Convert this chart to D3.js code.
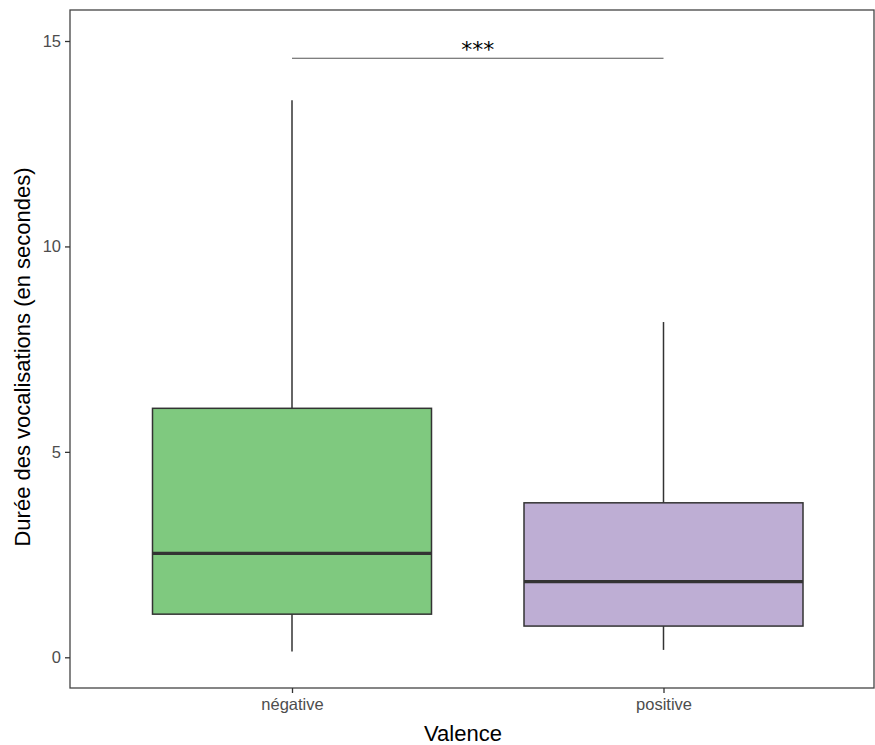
<!DOCTYPE html>
<html>
<head>
<meta charset="utf-8">
<script src="https://cdnjs.cloudflare.com/ajax/libs/d3/7.8.5/d3.min.js"></script>
<style>
  body { margin: 0; background: #fff; }
  svg text { font-family: "Liberation Sans", Arial, sans-serif; }
</style>
</head>
<body>
<div id="chart"></div>
<script>
// box statistics
var categories = ["négative", "positive"];
var whiskerLow = [0.14, 0.18];
var q1 = [1.05, 0.76];
var medians = [2.53, 1.84];
var q3 = [6.06, 3.76];
var whiskerHigh = [13.56, 8.16];
var fills = ["#7fc97f", "#beaed4"];
var yTicks = [0, 5, 10, 15];
var signif = {label: "***", y: 14.58};

var width = 875, height = 745;
var panel = {left: 70, top: 10, right: 874, bottom: 688};

var svg = d3.select("#chart").append("svg")
    .attr("width", width)
    .attr("height", height);

var y = d3.scaleLinear().domain([0, 15]).range([657.3, 41]);
var x = d3.scalePoint().domain(categories).range([292, 663.5]);
var boxW = 279;

var data = categories.map(function(c, i) {
  return {cat: c, lo: whiskerLow[i], q1: q1[i], med: medians[i], q3: q3[i], hi: whiskerHigh[i], fill: fills[i]};
});

var g = svg.append("g");

// whiskers
g.selectAll(".wlow").data(data).enter().append("line")
    .attr("x1", function(d) { return x(d.cat); })
    .attr("x2", function(d) { return x(d.cat); })
    .attr("y1", function(d) { return y(d.lo); })
    .attr("y2", function(d) { return y(d.q1); })
    .attr("stroke", "#333").attr("stroke-width", 1.5);
g.selectAll(".whigh").data(data).enter().append("line")
    .attr("x1", function(d) { return x(d.cat); })
    .attr("x2", function(d) { return x(d.cat); })
    .attr("y1", function(d) { return y(d.q3); })
    .attr("y2", function(d) { return y(d.hi); })
    .attr("stroke", "#333").attr("stroke-width", 1.5);

// boxes
g.selectAll(".box").data(data).enter().append("rect")
    .attr("x", function(d) { return x(d.cat) - boxW / 2; })
    .attr("y", function(d) { return y(d.q3); })
    .attr("width", boxW)
    .attr("height", function(d) { return y(d.q1) - y(d.q3); })
    .attr("fill", function(d) { return d.fill; })
    .attr("stroke", "#333").attr("stroke-width", 1.5);

// medians
g.selectAll(".med").data(data).enter().append("line")
    .attr("x1", function(d) { return x(d.cat) - boxW / 2; })
    .attr("x2", function(d) { return x(d.cat) + boxW / 2; })
    .attr("y1", function(d) { return y(d.med); })
    .attr("y2", function(d) { return y(d.med); })
    .attr("stroke", "#333").attr("stroke-width", 3.2);

// significance bar
g.append("line")
    .attr("x1", x(categories[0])).attr("x2", x(categories[1]))
    .attr("y1", y(signif.y)).attr("y2", y(signif.y))
    .attr("stroke", "#555").attr("stroke-width", 1.1);
g.append("text")
    .attr("x", (x(categories[0]) + x(categories[1])) / 2)
    .attr("y", y(signif.y) - 1)
    .attr("text-anchor", "middle")
    .attr("font-size", 22)
    .attr("fill", "#000")
    .style("font-family", "DejaVu Sans, sans-serif")
    .text(signif.label);

// panel border
svg.append("rect")
    .attr("x", panel.left).attr("y", panel.top)
    .attr("width", panel.right - panel.left)
    .attr("height", panel.bottom - panel.top)
    .attr("fill", "none").attr("stroke", "#444").attr("stroke-width", 1.3);

// axes
var yAxis = svg.append("g")
    .attr("transform", "translate(" + panel.left + ",0)")
    .call(d3.axisLeft(y).tickValues(yTicks).tickSize(5).tickPadding(4));
var xAxis = svg.append("g")
    .attr("transform", "translate(0," + panel.bottom + ")")
    .call(d3.axisBottom(x).tickSize(5).tickPadding(5));
[yAxis, xAxis].forEach(function(a) {
  a.select(".domain").remove();
  a.selectAll(".tick line").attr("stroke", "#333").attr("stroke-width", 1.3);
  a.selectAll(".tick text").attr("fill", "#4d4d4d").attr("font-size", 16.5)
      .style("font-family", "Liberation Sans, Arial, sans-serif");
});

// axis titles
svg.append("text")
    .attr("x", 463).attr("y", 741)
    .attr("text-anchor", "middle")
    .attr("font-size", 22)
    .attr("fill", "#000")
    .text("Valence");
svg.append("text")
    .attr("transform", "translate(30,357) rotate(-90)")
    .attr("text-anchor", "middle")
    .attr("font-size", 22)
    .attr("fill", "#000")
    .text("Durée des vocalisations (en secondes)");
</script>
</body>
</html>
